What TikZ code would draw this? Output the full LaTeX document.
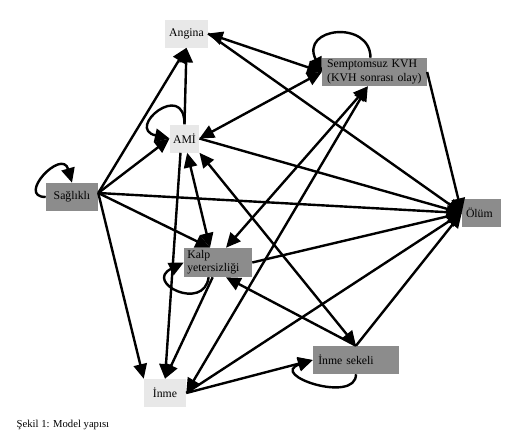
\documentclass[tikz,border=0pt]{standalone}
\usepackage{fontspec}
\setmainfont{Liberation Serif}
\usetikzlibrary{arrows.meta}

\begin{document}
\begin{tikzpicture}[
    x=0.75pt, y=-0.75pt,
    >={Triangle[length=11pt,width=10pt]},
    font=\fontsize{8.8}{10}\selectfont,
    state/.style={rectangle, inner sep=0pt, minimum height=21pt},
    light/.style={state, fill=black!9},
    dark/.style={state, fill=black!45, align=left},
    flow/.style={->, line width=1.8pt},
    twoway/.style={<->, line width=1.8pt},
    figcap/.style={anchor=base west, font=\fontsize{8}{9}\selectfont}
  ]
  \useasboundingbox (0,0) rectangle (526,444);

  % States.
  \node[light, minimum width=32pt]  (angina)   at (186.5,33.5) {Angina};
  \node[light, minimum width=22pt]  (ami)      at (184.5,138.5) {AMİ};
  \node[dark, minimum width=39pt, align=center]
                                    (saglikli) at (72,197)    {Sağlıklı};
  \node[dark, inner xsep=3.8pt, text width=71pt]
                                    (skvh)     at (374.5,72)  {Semptomsuz KVH\\(KVH sonrası olay)};
  \node[dark, inner xsep=3pt, text width=23.25pt]
                                    (olum)     at (481.5,213) {Ölüm};
  \node[dark, inner xsep=2.5pt, text width=46pt, minimum height=21.75pt]
                                    (ky)       at (218,262.5) {Kalp\\yetersizliği};
  \node[dark, inner xsep=4pt, text width=56.5pt]
                                    (insek)    at (356,360)   {İnme sekeli};
  \node[light, minimum width=31.5pt] (inme)    at (165,393)   {İnme};

  \coordinate (s0) at ([yshift=3pt]saglikli.east);

  % Self loops.
  \draw[flow] (saglikli.west) .. controls +(-30,0) and +(-10,-35) .. (saglikli.north);
  \draw[flow] (ami.north) .. controls +(0,-45) and +(-45,-10) .. (ami.west);
  \draw[flow] ([xshift=-3pt]skvh.north) .. controls +(0,-38) and +(-22,-45) .. (skvh.west);
  \draw[flow] ([xshift=-7pt]ky.south) .. controls +(-5,35) and +(-40,20) .. (ky.west);
  \draw[flow] (insek.south) .. controls +(0,30) and +(-45,15) .. (insek.west);

  % From the healthy state.
  \draw[flow] (s0) -- (angina.south);
  \draw[flow] (s0) -- (ami.west);
  \draw[flow] (s0) -- (olum.west);
  \draw[flow] (s0) -- ([xshift=-6pt]ky.north);
  \draw[flow] (s0) -- (inme.north west);

  % AMI and angina.
  \draw[flow] (ami.north) -- (angina.south);
  \draw[twoway] (ami.east) -- (skvh.west);
  \draw[flow] (ami.east) -- (olum.west);
  \draw[twoway] ([xshift=2pt]ami.south) -- ([xshift=-6pt]ky.north);
  \draw[flow] ([xshift=-3pt]ami.south) -- (inme.north);
  \draw[twoway] (ami.south east) -- (insek.north);
  \draw[twoway] (angina.east) -- (skvh.west);
  \draw[flow] (angina.east) -- (olum.west);

  % Post-event state.
  \draw[flow] (skvh.east) -- (olum.west);
  \draw[twoway] ([xshift=-5pt]skvh.south) -- ([xshift=6pt]ky.north);
  \draw[twoway] ([xshift=-5pt]skvh.south) -- (inme.east);

  % Heart failure and stroke.
  \draw[flow] (ky.east) -- (olum.west);
  \draw[flow] ([xshift=-4pt]ky.south) -- (inme.north);
  \draw[flow] (insek.north) -- ([xshift=6pt]ky.south);
  \draw[flow] (insek.north) -- (olum.west);
  \draw[flow] (inme.east) -- (insek.west);
  \draw[flow] (inme.east) -- (olum.west);

  \node[figcap] (caption) at (12,427) {Şekil 1: Model yapısı};
\end{tikzpicture}
\end{document}
